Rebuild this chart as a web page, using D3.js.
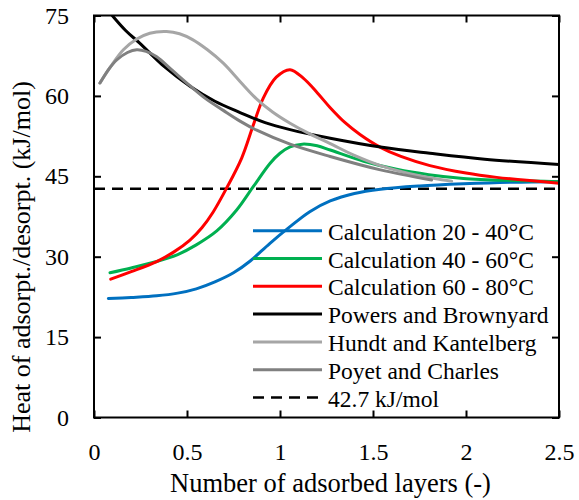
<!DOCTYPE html>
<html>
<head>
<meta charset="utf-8">
<script src="https://cdn.jsdelivr.net/npm/d3@7"></script>
<style>
  html, body { margin: 0; padding: 0; background: #fff; }
  svg { display: block; }
  svg text { font-family: "Liberation Serif", "DejaVu Serif", "Times New Roman", Times, serif; fill: #000; }
</style>
</head>
<body>
<svg id="chart" width="579" height="500"></svg>
<script>
// ---- Data ----
const blueX  = [0.077, 0.2, 0.337, 0.45, 0.55, 0.65, 0.75, 0.84, 0.946, 1.054, 1.16, 1.27, 1.4, 1.54, 1.75, 1.986, 2.25, 2.5];
const blueY  = [22.2, 22.4, 22.7, 23.2, 24.0, 25.3, 27.0, 29.2, 32.5, 35.6, 38.4, 40.4, 41.8, 42.6, 43.2, 43.6, 43.9, 44.0];

const greenX = [0.086, 0.2, 0.337, 0.45, 0.55, 0.66, 0.767, 0.857, 0.946, 1.0, 1.054, 1.12, 1.2, 1.27, 1.45, 1.627, 1.8, 1.986, 2.25, 2.5];
const greenY = [27.0, 27.9, 29.1, 30.4, 32.2, 34.8, 38.7, 43.1, 47.4, 49.3, 50.5, 51.0, 50.7, 49.9, 47.8, 46.3, 45.3, 44.6, 44.2, 44.0];

const redX   = [0.09, 0.2, 0.337, 0.43, 0.516, 0.58, 0.64, 0.71, 0.794, 0.857, 0.91, 0.98, 1.054, 1.125, 1.2, 1.27, 1.35, 1.43, 1.54, 1.65, 1.806, 2.0, 2.165, 2.5];
const redY   = [25.8, 27.2, 29.1, 30.9, 33.1, 35.4, 38.3, 42.6, 48.4, 54.6, 59.6, 63.5, 64.9, 63.3, 60.6, 57.8, 55.0, 52.8, 50.4, 48.7, 47.0, 45.6, 44.8, 43.7];

const powersX = [0.098, 0.17, 0.247, 0.38, 0.516, 0.65, 0.785, 0.92, 1.054, 1.27, 1.55, 1.806, 2.1, 2.505];
const powersY = [75.0, 72.2, 69.8, 65.4, 61.8, 59.0, 56.9, 55.0, 53.7, 52.1, 50.4, 49.3, 48.2, 47.2];

const hundtX = [0.032, 0.09, 0.158, 0.23, 0.30, 0.39, 0.46, 0.53, 0.61, 0.695, 0.785, 0.875, 0.96, 1.054, 1.16, 1.27, 1.4, 1.54, 1.75, 1.923];
const hundtY = [62.4, 65.5, 68.6, 70.6, 71.7, 72.0, 71.6, 70.5, 68.6, 66.1, 62.7, 59.4, 57.0, 54.9, 52.9, 51.1, 48.9, 47.0, 45.1, 44.1];

const poyetX = [0.032, 0.08, 0.122, 0.18, 0.23, 0.28, 0.337, 0.42, 0.516, 0.6, 0.695, 0.785, 0.875, 1.054, 1.27, 1.54, 1.815];
const poyetY = [62.4, 65.0, 66.7, 68.1, 68.6, 68.3, 67.3, 64.8, 61.9, 59.5, 57.3, 55.3, 53.6, 51.0, 48.7, 46.2, 44.3];

const refValue = 42.7;

const seriesNames = ["Calculation 20 - 40°C", "Calculation 40 - 60°C", "Calculation 60 - 80°C",
                     "Powers and Brownyard", "Hundt and Kantelberg", "Poyet and Charles", "42.7 kJ/mol"];
const seriesColors = ["#0070C0", "#00B050", "#FF0000", "#000000", "#A6A6A6", "#808080", "#000000"];

const xTicks = [0, 0.5, 1, 1.5, 2, 2.5];
const xTickLabels = ["0", "0.5", "1", "1.5", "2", "2.5"];
const yTicks = [0, 15, 30, 45, 60, 75];
const yTickLabels = ["0", "15", "30", "45", "60", "75"];

const xTitle = "Number of adsorbed layers (-)";
const yTitle = "Heat of adsorpt./desorpt. (kJ/mol)";

// ---- Layout ----
const FONT = "'Liberation Serif', 'DejaVu Serif', 'Times New Roman', Times, serif";
const L = 94, R = 559, T = 15.5, B = 417.5;
const svg = d3.select("#chart");
const x = d3.scaleLinear().domain([0, 2.5]).range([L, R]);
const y = d3.scaleLinear().domain([0, 75]).range([B, T]);

svg.append("defs").append("clipPath").attr("id", "clip")
  .append("rect").attr("x", L).attr("y", T).attr("width", R - L).attr("height", B - T);

const line = d3.line().x(d => x(d[0])).y(d => y(d[1])).curve(d3.curveCatmullRom.alpha(0.5));
const zip = (a, b) => a.map((v, i) => [v, b[i]]);

const seriesData = [
  zip(blueX, blueY), zip(greenX, greenY), zip(redX, redY),
  zip(powersX, powersY), zip(hundtX, hundtY), zip(poyetX, poyetY)
];

const g = svg.append("g").attr("clip-path", "url(#clip)");

g.append("line")
  .attr("x1", x(0)).attr("x2", x(2.5))
  .attr("y1", y(refValue)).attr("y2", y(refValue))
  .attr("stroke", "#000").attr("stroke-width", 2.5)
  .attr("stroke-dasharray", "11,7");

seriesData.forEach((d, i) => {
  g.append("path").datum(d)
    .attr("d", line)
    .attr("fill", "none")
    .attr("stroke", seriesColors[i])
    .attr("stroke-width", 3)
    .attr("stroke-linecap", "round");
});

// ---- Axes (ticks inward, on all four sides) ----
const tickLen = 7;
const xAxisB = d3.axisBottom(x).tickValues(xTicks).tickSize(-tickLen).tickFormat((d, i) => xTickLabels[i]).tickPadding(25);
const xAxisT = d3.axisTop(x).tickValues(xTicks).tickSize(-tickLen).tickFormat("");
const yAxisL = d3.axisLeft(y).tickValues(yTicks).tickSize(-tickLen).tickFormat((d, i) => yTickLabels[i]).tickPadding(25);
const yAxisR = d3.axisRight(y).tickValues(yTicks).tickSize(-tickLen).tickFormat("");

function style(sel) {
  sel.attr("font-family", FONT).attr("font-size", 24);
  sel.select(".domain").remove();
  sel.selectAll(".tick line").attr("stroke", "#000").attr("stroke-width", 2);
  sel.selectAll(".tick text").style("font-family", FONT).attr("font-size", 24).attr("fill", "#000");
}
svg.append("g").attr("transform", `translate(0,${B})`).call(xAxisB).call(style);
svg.append("g").attr("transform", `translate(0,${T})`).call(xAxisT).call(style);
svg.append("g").attr("transform", `translate(${L},0)`).call(yAxisL).call(style);
svg.append("g").attr("transform", `translate(${R},0)`).call(yAxisR).call(style);

svg.append("rect").attr("x", L).attr("y", T).attr("width", R - L).attr("height", B - T)
  .attr("fill", "none").attr("stroke", "#000").attr("stroke-width", 2);

// ---- Titles ----
svg.append("text").attr("x", (L + R) / 2 + 4).attr("y", 492)
  .attr("text-anchor", "middle").style("font-family", FONT).attr("font-size", 26.5).text(xTitle);
svg.append("text").attr("transform", "translate(30,257) rotate(-90)")
  .attr("text-anchor", "middle").style("font-family", FONT).attr("font-size", 26).text(yTitle);

// ---- Legend ----
const legY0 = 230.7, legDY = 27.8;
const leg = svg.append("g");
seriesNames.forEach((name, i) => {
  const yy = legY0 + i * legDY;
  leg.append("line").attr("x1", 253).attr("x2", 322).attr("y1", yy).attr("y2", yy)
    .attr("stroke", seriesColors[i]).attr("stroke-width", i === 6 ? 2.5 : 3)
    .attr("stroke-dasharray", i === 6 ? "11,7" : null);
  leg.append("text").attr("x", 328).attr("y", yy + 9)
    .style("font-family", FONT).attr("font-size", 23.5).text(name);
});
</script>
</body>
</html>
